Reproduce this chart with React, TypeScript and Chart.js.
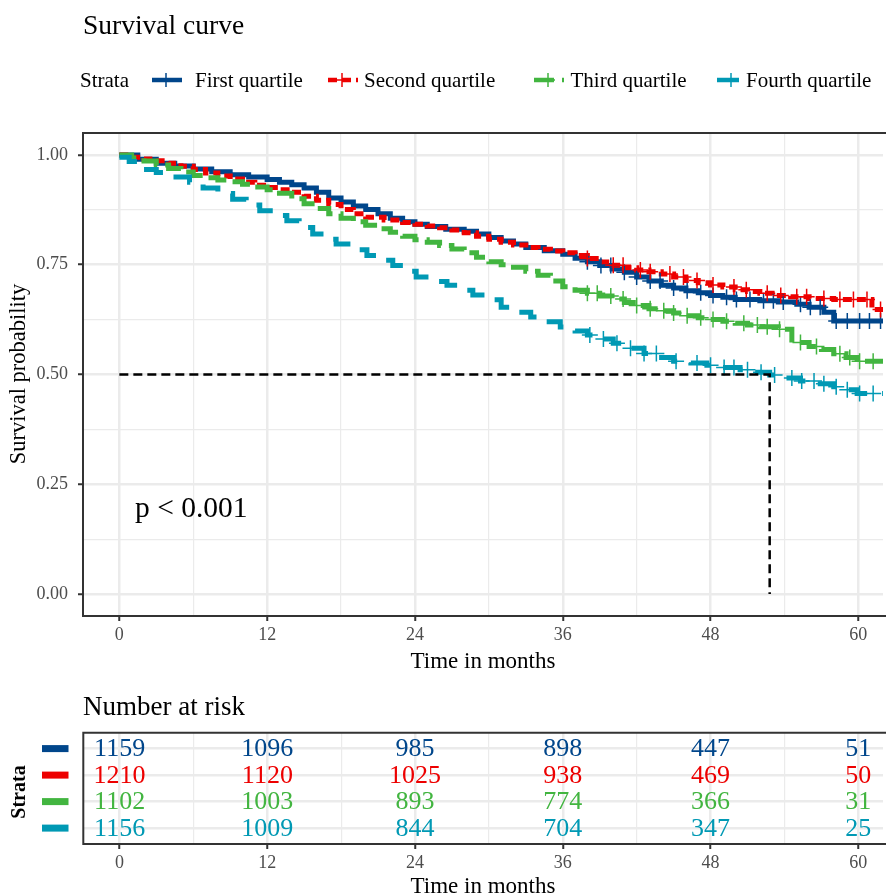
import React, { useEffect, useRef } from "react";
import { Chart, registerables } from "chart.js";
Chart.register(...registerables);

const FONT = '"Liberation Serif", "Times New Roman", serif';

const GROUPS = ["First quartile", "Second quartile", "Third quartile", "Fourth quartile"];
const COLORS = ["#00468B", "#ED0000", "#42B540", "#0099B4"];
const DASHES: number[][] = [[], [9, 5], [20, 8], [22, 15]];

const X_MIN = -2.95;
const X_MAX = 62;
const X_TICKS = [0, 6, 12, 18, 24, 30, 36, 42, 48, 54, 60];
const Y_TICKS = [0, 0.125, 0.25, 0.375, 0.5, 0.625, 0.75, 0.875, 1];

// First quartile
const T1 = [0, 1.5, 3, 4.5, 6, 7.5, 9, 10.5, 12, 13, 14, 15, 16, 17, 18, 19, 20, 21, 22, 23, 24, 25, 26.5, 28, 29, 30, 31, 32, 33, 34.5, 36, 37, 38, 39, 40, 41, 42, 43, 44, 45, 46, 47, 48, 49, 50, 52, 53.5, 55, 56, 57.2, 58, 62];
const S1 = [1, 0.99, 0.981, 0.975, 0.968, 0.962, 0.955, 0.95, 0.944, 0.938, 0.932, 0.925, 0.915, 0.902, 0.893, 0.884, 0.876, 0.866, 0.856, 0.848, 0.842, 0.837, 0.831, 0.826, 0.82, 0.812, 0.804, 0.797, 0.789, 0.782, 0.774, 0.765, 0.757, 0.748, 0.74, 0.733, 0.722, 0.713, 0.703, 0.697, 0.691, 0.686, 0.68, 0.676, 0.671, 0.668, 0.665, 0.66, 0.653, 0.642, 0.622, 0.622];
// Second quartile
const T2 = [0, 1, 2, 3, 4, 5, 6, 7, 8, 9, 10, 11, 12, 13, 14, 15, 16, 17, 18, 19, 20, 21.5, 23, 24, 25, 26, 27, 28, 29, 30, 31, 32, 33, 34, 35, 36, 37, 38, 39, 40, 41, 42, 43, 44, 45, 46, 47, 48, 49, 50, 51, 52, 53, 54.5, 56, 58, 61.1, 62];
const S2 = [1, 0.995, 0.991, 0.987, 0.981, 0.974, 0.967, 0.959, 0.952, 0.945, 0.938, 0.931, 0.926, 0.921, 0.915, 0.906, 0.897, 0.887, 0.876, 0.866, 0.858, 0.852, 0.846, 0.842, 0.838, 0.834, 0.829, 0.823, 0.815, 0.808, 0.801, 0.795, 0.789, 0.785, 0.781, 0.777, 0.771, 0.764, 0.756, 0.749, 0.743, 0.738, 0.734, 0.729, 0.722, 0.714, 0.709, 0.704, 0.699, 0.693, 0.689, 0.685, 0.68, 0.677, 0.673, 0.671, 0.648, 0.648];
// Third quartile
const T3 = [0, 1, 2, 3, 4, 5, 6, 7, 8, 9, 10, 11, 12, 13, 14, 15, 16, 17, 18, 19, 20, 21, 22, 23, 24, 25, 26, 27, 28, 29, 30, 31, 32, 33, 34, 35, 36, 37, 38, 39, 40, 41, 42, 43, 44, 45, 46, 47, 48, 49, 50, 51, 52, 53.5, 54.6, 56, 57, 58, 59, 59.9, 62];
const S3 = [1, 0.993, 0.986, 0.977, 0.969, 0.961, 0.953, 0.948, 0.943, 0.939, 0.933, 0.927, 0.921, 0.913, 0.9, 0.889, 0.878, 0.866, 0.856, 0.848, 0.84, 0.832, 0.824, 0.815, 0.807, 0.801, 0.794, 0.786, 0.777, 0.767, 0.757, 0.75, 0.744, 0.735, 0.726, 0.713, 0.7, 0.692, 0.685, 0.679, 0.672, 0.664, 0.657, 0.65, 0.645, 0.64, 0.634, 0.629, 0.625, 0.621, 0.617, 0.613, 0.609, 0.603, 0.573, 0.564, 0.557, 0.547, 0.539, 0.53, 0.53];
// Fourth quartile
const T4 = [0, 0.8, 1.9, 3, 4.6, 5.7, 6.8, 8, 9.2, 10.3, 11.4, 12.5, 13.6, 14.6, 15.7, 16.6, 17.6, 18.8, 20.1, 21.1, 22.2, 23.2, 24.1, 25.3, 26.6, 27.6, 28.7, 29.8, 31, 32.2, 33.4, 34.6, 35.8, 37, 38, 39, 40.1, 41.4, 42.6, 43.8, 45, 46.4, 47.7, 49, 50.4, 51.6, 52.8, 54, 55.3, 56.6, 58, 59, 59.9, 62];
const S4 = [0.995, 0.985, 0.967, 0.96, 0.95, 0.938, 0.925, 0.912, 0.899, 0.886, 0.873, 0.862, 0.85, 0.835, 0.82, 0.808, 0.797, 0.784, 0.771, 0.76, 0.748, 0.735, 0.722, 0.712, 0.703, 0.692, 0.681, 0.67, 0.653, 0.642, 0.631, 0.62, 0.608, 0.599, 0.59, 0.581, 0.571, 0.56, 0.548, 0.539, 0.53, 0.526, 0.521, 0.516, 0.511, 0.505, 0.499, 0.492, 0.485, 0.479, 0.472, 0.465, 0.457, 0.457];

const CENSOR1 = [38, 39.1, 39.9, 41, 42, 43.1, 43.9, 45, 46.1, 47.2, 48.2, 49.3, 50.1, 51.2, 52.3, 53.1, 53.9, 55.3, 56.1, 56.9, 58.2, 59.1, 60.1, 60.9, 61.8];
const CENSOR2 = [38, 40.1, 40.9, 42.3, 43.1, 44.7, 45.8, 46.9, 48.2, 49.9, 50.9, 52.6, 53.7, 55, 55.8, 57.2, 58.5, 59.6, 60.7, 61.8];
const CENSOR3 = [38, 38.8, 39.9, 40.9, 42, 43.1, 44.2, 45, 46.1, 47.2, 48.2, 49.3, 50.7, 51.8, 52.6, 53.6, 55.3, 56.6, 58.5, 59.3, 60.1, 61.2];
const CENSOR4 = [38.2, 39.3, 40.4, 41.5, 42.6, 43.6, 45.2, 46.9, 48, 49.1, 49.9, 51, 52.1, 53.2, 54.6, 55.4, 56.4, 57.2, 58.2, 59.1, 60.1, 61.2];

const MEDIAN_T = 52.8;
const MEDIAN_S = 0.5;

const RISK_TIMES = [0, 12, 24, 36, 48, 60];
const RISK1 = [1159, 1096, 985, 898, 447, 51];
const RISK2 = [1210, 1120, 1025, 938, 469, 50];
const RISK3 = [1102, 1003, 893, 774, 366, 31];
const RISK4 = [1156, 1009, 844, 704, 347, 25];

const TIMES = [T1, T2, T3, T4];
const SURV = [S1, S2, S3, S4];
const CENSORS = [CENSOR1, CENSOR2, CENSOR3, CENSOR4];
const RISKS = [RISK1, RISK2, RISK3, RISK4];

function stepAt(T: number[], S: number[], t: number) {
  let v = S[0];
  for (let i = 0; i < T.length; i++) if (T[i] <= t) v = S[i];
  return v;
}

const isMajorX = (v: number) => Math.abs(v % 12) < 1e-9;
const isMajorY = (v: number) => Math.abs(v * 4 - Math.round(v * 4)) < 1e-9;

const borderPlugin = {
  id: "panelBorder",
  afterDraw(chart: any) {
    const { ctx, chartArea: a } = chart;
    ctx.save();
    ctx.strokeStyle = "#333333";
    ctx.lineWidth = 2;
    ctx.beginPath();
    ctx.moveTo(a.right + 5, a.top);
    ctx.lineTo(a.left, a.top);
    ctx.lineTo(a.left, a.bottom);
    ctx.lineTo(a.right + 5, a.bottom);
    ctx.stroke();
    ctx.restore();
  },
};

function xScaleOpts(height: number) {
  return {
    type: "linear",
    min: X_MIN,
    max: X_MAX,
    afterBuildTicks: (s: any) => {
      s.ticks = X_TICKS.map((v) => ({ value: v }));
    },
    afterFit: (s: any) => {
      s.height = height;
      s.paddingLeft = 0;
      s.paddingRight = 0;
    },
    ticks: {
      autoSkip: false,
      maxRotation: 0,
      padding: 3,
      color: "#4d4d4d",
      font: { family: FONT, size: 18 },
      callback: (v: number) => (isMajorX(v) ? String(v) : ""),
    },
    grid: {
      color: "#ebebeb",
      lineWidth: (c: any) => (isMajorX(c.tick ? c.tick.value : 0) ? 2.5 : 1.2),
      tickLength: 5,
      tickWidth: 2,
      tickColor: (c: any) => (isMajorX(c.tick ? c.tick.value : 0) ? "#333333" : "rgba(0,0,0,0)"),
    },
    border: { display: false },
  };
}

function MainChart() {
  const ref = useRef<HTMLCanvasElement>(null);
  useEffect(() => {
    const datasets: any[] = [];
    datasets.push({
      data: [
        { x: 0, y: MEDIAN_S },
        { x: MEDIAN_T, y: MEDIAN_S },
        { x: MEDIAN_T, y: 0 },
      ],
      borderColor: "#000000",
      borderWidth: 2.5,
      borderDash: [9, 5],
      pointRadius: 0,
      fill: false,
      order: 0,
    });
    for (let g = 3; g >= 0; g--) {
      datasets.push({
        data: CENSORS[g].map((t) => ({ x: t, y: stepAt(TIMES[g], SURV[g], t) })),
        showLine: false,
        pointStyle: "cross",
        pointRadius: 8,
        pointBorderWidth: 1.5,
        pointBorderColor: COLORS[g],
        borderColor: COLORS[g],
        order: 1 + (3 - g),
      });
    }
    for (let g = 3; g >= 0; g--) {
      datasets.push({
        label: GROUPS[g],
        data: TIMES[g].map((t, i) => ({ x: t, y: SURV[g][i] })),
        stepped: "before",
        borderColor: COLORS[g],
        borderWidth: 5,
        borderDash: DASHES[g],
        borderCapStyle: "butt",
        borderJoinStyle: "miter",
        pointRadius: 0,
        fill: false,
        order: 5 + (3 - g),
      });
    }
    const chart = new Chart(ref.current!, {
      type: "line",
      data: { datasets },
      options: {
        responsive: false,
        animation: false,
        devicePixelRatio: 1,
        events: [],
        layout: { autoPadding: false, padding: { top: 133, right: 3, left: 0, bottom: 0 } },
        plugins: { legend: { display: false }, tooltip: { enabled: false } },
        scales: {
          x: xScaleOpts(690 - 616) as any,
          y: {
            type: "linear",
            min: -0.05,
            max: 1.05,
            afterBuildTicks: (s: any) => {
              s.ticks = Y_TICKS.map((v) => ({ value: v }));
            },
            afterFit: (s: any) => {
              s.width = 83;
              s.paddingTop = 0;
              s.paddingBottom = 0;
            },
            ticks: {
              padding: 10,
              color: "#4d4d4d",
              font: { family: FONT, size: 18 },
              callback: (v: number) => (isMajorY(v) ? v.toFixed(2) : ""),
            },
            grid: {
              color: "#ebebeb",
              lineWidth: (c: any) => (isMajorY(c.tick ? c.tick.value : 0) ? 2.5 : 1.2),
              tickLength: 5,
              tickWidth: 2,
              tickColor: (c: any) => (isMajorY(c.tick ? c.tick.value : 0) ? "#333333" : "rgba(0,0,0,0)"),
            },
            border: { display: false },
          },
        },
      },
      plugins: [borderPlugin],
    } as any);
    return () => chart.destroy();
  }, []);
  return (
    <canvas
      ref={ref}
      width={886}
      height={690}
      style={{ position: "absolute", left: 0, top: 0, width: 886, height: 690, display: "block" }}
    />
  );
}

const riskPlugin = {
  id: "riskLabels",
  afterDatasetsDraw(chart: any) {
    const { ctx } = chart;
    const xs = chart.scales.x;
    const ys = chart.scales.y;
    ctx.save();
    ctx.font = `26px ${FONT}`;
    ctx.textAlign = "center";
    ctx.textBaseline = "middle";
    for (let g = 0; g < 4; g++) {
      const y = ys.getPixelForValue(g + 1);
      ctx.fillStyle = COLORS[g];
      for (let i = 0; i < RISK_TIMES.length; i++) {
        ctx.fillText(String(RISKS[g][i]), xs.getPixelForValue(RISK_TIMES[i]), y + 1);
      }
      ctx.fillRect(42, y - 3.5, 26.5, 7);
    }
    ctx.restore();
  },
};

function RiskChart() {
  const ref = useRef<HTMLCanvasElement>(null);
  useEffect(() => {
    const datasets = RISKS.map((r, g) => ({
      data: RISK_TIMES.map((t) => ({ x: t, y: g + 1 })),
      showLine: false,
      pointRadius: 0,
      borderColor: COLORS[g],
    }));
    const chart = new Chart(ref.current!, {
      type: "line",
      data: { datasets },
      options: {
        responsive: false,
        animation: false,
        devicePixelRatio: 1,
        events: [],
        layout: { autoPadding: false, padding: { top: 32.7, right: 3, left: 0, bottom: 0 } },
        plugins: { legend: { display: false }, tooltip: { enabled: false } },
        scales: {
          x: xScaleOpts(195 - 144) as any,
          y: {
            type: "linear",
            min: 0.4,
            max: 4.6,
            reverse: true,
            afterBuildTicks: (s: any) => {
              s.ticks = [1, 2, 3, 4].map((v) => ({ value: v }));
            },
            afterFit: (s: any) => {
              s.width = 83.3;
              s.paddingTop = 0;
              s.paddingBottom = 0;
            },
            ticks: { display: false },
            grid: { color: "#ebebeb", lineWidth: 2.5, drawTicks: false },
            border: { display: false },
          },
        },
      },
      plugins: [riskPlugin, borderPlugin],
    } as any);
    return () => chart.destroy();
  }, []);
  return (
    <canvas
      ref={ref}
      width={886}
      height={195}
      style={{ position: "absolute", left: 0, top: 700, width: 886, height: 195, display: "block" }}
    />
  );
}

function Txt(props: {
  x: number;
  y: number;
  size: number;
  children: any;
  center?: boolean;
  rotate?: boolean;
  bold?: boolean;
  color?: string;
}) {
  const { x, y, size, children, center, rotate, bold, color } = props;
  let transform = "translateY(-50%)";
  if (center) transform = "translate(-50%, -50%)";
  if (rotate) transform = "translate(-50%, -50%) rotate(-90deg)";
  return (
    <div
      style={{
        position: "absolute",
        left: x,
        top: y,
        transform,
        fontFamily: FONT,
        fontSize: size,
        lineHeight: 1,
        whiteSpace: "nowrap",
        fontWeight: bold ? "bold" : "normal",
        color: color || "#000",
      }}
    >
      {children}
    </div>
  );
}

const LEGEND_SYMBOL_X = [151.5, 327.5, 534, 717];
const LEGEND_TEXT_X = [195, 364, 570.5, 746];

function LegendSymbol({ g }: { g: number }) {
  return (
    <svg
      width={30}
      height={18}
      style={{ position: "absolute", left: LEGEND_SYMBOL_X[g], top: 80 - 9, overflow: "visible" }}
    >
      <line
        x1={0}
        y1={9}
        x2={30}
        y2={9}
        stroke={COLORS[g]}
        strokeWidth={4.5}
        strokeDasharray={DASHES[g].length ? DASHES[g].join(" ") : undefined}
      />
      <line x1={14} y1={2} x2={14} y2={16} stroke={COLORS[g]} strokeWidth={1.5} />
      <line x1={7} y1={9} x2={21} y2={9} stroke={COLORS[g]} strokeWidth={1.5} />
    </svg>
  );
}

export default function App() {
  return (
    <div style={{ position: "absolute", left: 0, top: 0, width: 886, height: 895, overflow: "hidden", background: "#fff" }}>
      <MainChart />
      <RiskChart />
      <Txt x={83} y={25} size={27.5}>Survival curve</Txt>
      <Txt x={80} y={80} size={21}>Strata</Txt>
      {GROUPS.map((name, g) => (
        <React.Fragment key={name}>
          <LegendSymbol g={g} />
          <Txt x={LEGEND_TEXT_X[g]} y={80} size={21}>{name}</Txt>
        </React.Fragment>
      ))}
      <Txt x={18} y={374} size={22.5} rotate>Survival probability</Txt>
      <Txt x={483} y={660} size={23} center>Time in months</Txt>
      <Txt x={135} y={508} size={29.5}>p &lt; 0.001</Txt>
      <Txt x={83} y={706} size={27}>Number at risk</Txt>
      <Txt x={18.3} y={791.7} size={20} rotate bold>Strata</Txt>
      <Txt x={483} y={885} size={23} center>Time in months</Txt>
    </div>
  );
}
